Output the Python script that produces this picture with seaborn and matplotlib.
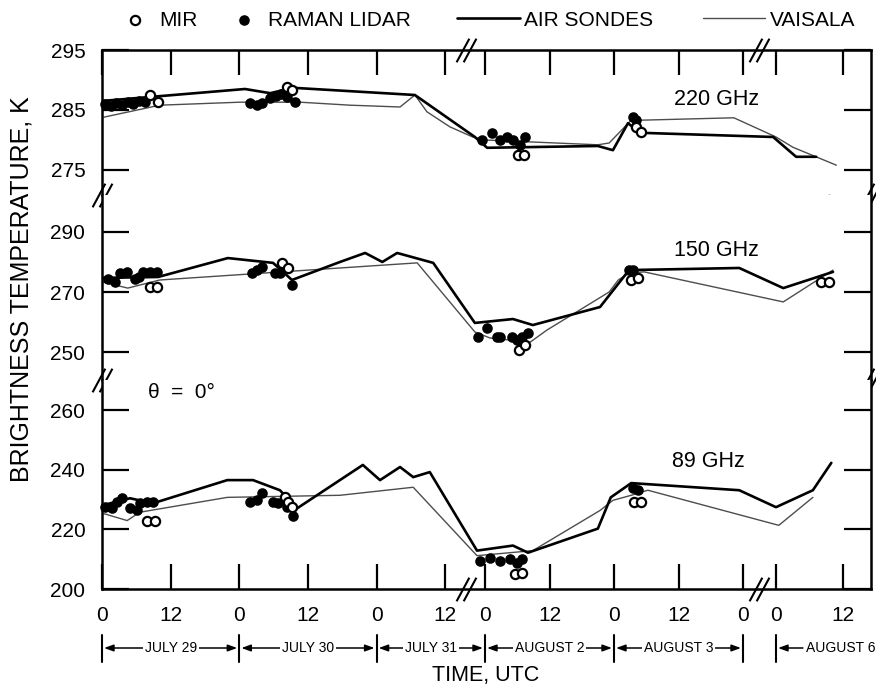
import numpy as np
import matplotlib
matplotlib.use("Agg")
import matplotlib.pyplot as plt
from matplotlib.path import Path
from matplotlib.transforms import blended_transform_factory
import seaborn as sns

# time = hours after 29 July 00 UTC (1 Aug and 4-5 Aug fall inside the axis breaks)

# ---- 220 GHz ----
sonde_220_h = [0, 25, 29.4, 33.4, 54.7, 94.1, 96.4, 117, 119.8, 122.6, 124.9, 191.5, 195.6, 199.2]
sonde_220_tb = [286.5, 288.5, 287.8, 288.7, 287.5, 280.5, 278.7, 279.0, 278.3, 282.8, 281.2, 280.5, 277.2, 277.2]
vaisala_220_h = [0.3, 10.1, 24.1, 34.6, 43.4, 52.1, 54.7, 56.8, 60.8, 93.7, 96, 117, 119.1, 123.2, 125,
                 142.3, 192, 195, 202.8]
vaisala_220_tb = [283.8, 285.8, 286.3, 286.3, 285.8, 285.5, 287.5, 284.7, 282.2, 280.5, 280, 279.2, 279.5,
                  283.3, 283.3, 283.7, 280.5, 278.8, 275.8]
raman_220_h = [0.5, 1.5, 2.5, 3.5, 4.5, 5.5, 6.5, 7.5, 25.9, 27.1, 28, 29.4, 30.4, 31.3, 32.3, 33.7,
               95.4, 97.3, 98.8, 100.1, 101.2, 102.5, 103.4, 123.5, 124]
raman_220_tb = [286, 285.6, 286.2, 285.8, 286.3, 286, 286.5, 286.4, 286.2, 285.8, 286.2, 287, 287.3, 287.6,
                287.2, 286.3, 280, 281.2, 280, 280.5, 280, 279.2, 280.5, 283.8, 283.3]
mir_220_h = [8.4, 9.8, 32.3, 33.2, 102.1, 103.3, 124.1, 125, 200, 201.5]
mir_220_tb = [287.5, 286.3, 288.8, 288.3, 277.5, 277.5, 282.2, 281.3, 268, 270]

# ---- 150 GHz ----
sonde_150_h = [0, 9.8, 22, 29.9, 33.2, 41.6, 46, 49, 51.6, 57.9, 94.1, 101.2, 104.9, 117.4, 122.8,
               143.3, 193.3, 202.2]
sonde_150_tb = [274.7, 275, 281.3, 279.7, 274, 280, 283, 280, 283, 279.7, 259.7, 261, 259, 265, 277.3,
                278, 271.3, 276.7]
vaisala_150_h = [0.2, 4.5, 10.1, 41.6, 55.1, 94.1, 96.9, 104.4, 107.5, 119.1, 120.8, 122.8, 125.6, 193.3, 202.2]
vaisala_150_tb = [273.3, 271.3, 274, 278, 279.7, 256.7, 254.7, 253.3, 257.3, 270, 274, 276.3, 276.7, 266.7, 277.3]
raman_150_h = [1.0, 2.3, 3.1, 4.4, 5.8, 6.5, 7.2, 8.4, 9.6, 26.2, 27.1, 28, 30.2, 31.1, 33.2,
               94.7, 96.4, 98.2, 98.8, 101, 102, 102.9, 104, 122.8, 123.6]
raman_150_tb = [274.3, 273.3, 276.3, 276.7, 274.3, 275, 276.7, 276.7, 276.7, 276.3, 277.3, 278.3, 276.3,
                276.3, 272.3, 255, 258, 255, 255, 255, 254, 255, 256.3, 277.3, 277.3]
mir_150_h = [8.4, 9.6, 31.5, 32.5, 102.3, 103.4, 123.2, 124.4, 200, 201.5]
mir_150_tb = [271.7, 271.7, 279.7, 278, 250.7, 252.3, 274, 274.7, 273.3, 273.3]

# ---- 89 GHz ----
sonde_89_h = [0, 4.9, 8.9, 21.9, 26.4, 31.1, 34.1, 45.6, 48.6, 52.1, 54.4, 57.3, 94.5, 101.2, 104,
              117, 119.4, 123.2, 143.3, 192, 198.6, 201.9]
sonde_89_tb = [228.1, 230.5, 228.8, 236.6, 236.6, 233.2, 227.1, 241.7, 236.6, 241, 237.6, 239.3, 212.9,
               214.6, 212.2, 220.3, 230.8, 235.6, 233.2, 227.5, 233.2, 242.4]
vaisala_89_h = [0.2, 4.4, 6.6, 21.9, 41.6, 54.4, 94.5, 104.9, 117.4, 119.8, 123.2, 126.3, 192.5, 198.6]
vaisala_89_tb = [225.4, 223, 225.8, 230.8, 231.5, 234.2, 211.2, 212.9, 226.4, 229.8, 231.5, 233.2, 221.4, 230.8]
raman_89_h = [0.5, 1.7, 2.6, 3.5, 4.9, 6.1, 6.6, 7.9, 8.9, 25.9, 27.1, 28, 29.9, 30.8, 32.3, 33.4,
              95.1, 96.9, 98.8, 100.7, 102, 102.9, 123.5, 124.4]
raman_89_tb = [227.5, 227.1, 229.2, 230.5, 227.1, 226.4, 228.8, 229.2, 229.2, 229.2, 229.8, 232.2, 229.2,
               228.8, 227.5, 224.7, 209.5, 210.5, 209.5, 210.2, 208.8, 210.2, 233.9, 233.2]
mir_89_h = [7.9, 9.3, 32, 32.5, 33.2, 101.6, 102.9, 123.7, 125]
mir_89_tb = [223, 223, 230.8, 229.2, 227.5, 205.1, 205.4, 229.2, 229.2]

# axis layout
xtick_hours = [0, 12, 24, 36, 48, 60, 96, 108, 120, 132, 144, 192, 204]
xtick_labels = ["0", "12", "0", "12", "0", "12", "0", "12", "0", "12", "0", "0", "12"]
day_labels = ["JULY 29", "JULY 30", "JULY 31", "AUGUST 2", "AUGUST 3"]
day_start = [0, 24, 48, 96, 120]
day_end = [24, 48, 96, 120, 144]
last_day_label = "AUGUST 6"
last_day_start = 192
break_hours = [78, 168]
band_ylims = [(270.83, 295), (240.7, 302.3), (200, 270.25)]
band_yticks = [[275, 285, 295], [250, 270, 290], [200, 220, 240, 260]]
band_names = ["220 GHz", "150 GHz", "89 GHz"]
band_name_pos = [(139, 286.7), (139, 283.7), (137.5, 242.7)]

# piecewise time scale that squeezes the two gaps
scale_hours = [-100, 0, 63, 93, 96, 144, 146.7, 189.2, 192, 209, 400]
scale_pos = [-470, 102, 462.4, 469, 485, 743, 757.5, 760, 776, 871, 1938.7]


def fwd(h):
    return np.interp(h, scale_hours, scale_pos)


def inv(p):
    return np.interp(p, scale_pos, scale_hours)


sns.set_style("ticks")
plt.rcParams["font.family"] = ["Liberation Sans", "DejaVu Sans"]
plt.rcParams["text.color"] = "black"
plt.rcParams["axes.labelcolor"] = "black"
plt.rcParams["xtick.color"] = "black"
plt.rcParams["ytick.color"] = "black"

fig, axes = plt.subplots(3, 1, sharex=True, figsize=(8.76, 6.89), dpi=100,
                         gridspec_kw={"height_ratios": [145, 185, 209], "hspace": 0})
fig.subplots_adjust(left=102 / 876, right=871 / 876, top=1 - 50 / 689, bottom=1 - 589 / 689)
axes[0].set_xscale("function", functions=(fwd, inv))

bands = [
    (sonde_220_h, sonde_220_tb, vaisala_220_h, vaisala_220_tb, raman_220_h, raman_220_tb, mir_220_h, mir_220_tb),
    (sonde_150_h, sonde_150_tb, vaisala_150_h, vaisala_150_tb, raman_150_h, raman_150_tb, mir_150_h, mir_150_tb),
    (sonde_89_h, sonde_89_tb, vaisala_89_h, vaisala_89_tb, raman_89_h, raman_89_tb, mir_89_h, mir_89_tb),
]

for i, (ax, b) in enumerate(zip(axes, bands)):
    lab = (lambda s: {"label": s}) if i == 0 else (lambda s: {})
    sns.lineplot(x=b[2], y=b[3], ax=ax, color="0.3", lw=1.0, sort=False, estimator=None,
                 legend=False, zorder=2, **lab("VAISALA"))
    sns.lineplot(x=b[0], y=b[1], ax=ax, color="black", lw=1.9, sort=False, estimator=None,
                 legend=False, zorder=3, **lab("AIR SONDES"))
    sns.scatterplot(x=b[4], y=b[5], ax=ax, color="black", s=58, linewidth=0, legend=False,
                    zorder=4, clip_on=False, **lab("RAMAN LIDAR"))
    sns.scatterplot(x=b[6], y=b[7], ax=ax, fc="white", ec="black", s=44, linewidth=1.6, legend=False,
                    zorder=5, clip_on=False, **lab("MIR"))
    ax.set_ylim(*band_ylims[i])
    ax.set_yticks(band_yticks[i])
    ax.tick_params(axis="y", direction="in", length=19.5, width=1.6, left=True, right=True,
                   labelsize=15, pad=12, colors="black")
    for sp in ax.spines.values():
        sp.set_linewidth(1.8)
        sp.set_color("black")
    ax.text(*band_name_pos[i], band_names[i], fontsize=15.5, ha="center", va="center")
    ax.set(xlabel="", ylabel="")

axes[0].set_xlim(0, 209)
axes[0].set_xticks(xtick_hours)
axes[2].set_xticklabels(xtick_labels)

axes[0].spines["bottom"].set_visible(False)
axes[1].spines["top"].set_visible(False)
axes[1].spines["bottom"].set_visible(False)
axes[2].spines["top"].set_visible(False)
axes[0].tick_params(axis="x", direction="in", top=True, bottom=False, length=18, width=1.6,
                    labelbottom=False, labeltop=False)
axes[1].tick_params(axis="x", top=False, bottom=False, labelbottom=False)
axes[2].tick_params(axis="x", direction="in", bottom=True, top=False, length=18, width=1.6,
                    labelsize=15, pad=12, colors="black")

axes[2].text(13.8, 266.2, "θ  =  0°", fontsize=15, ha="center", va="center")

# "//" break marks on the frame
brk = Path([(-0.42, -0.5), (0.12, 0.5), (-0.12, -0.5), (0.42, 0.5)],
           [Path.MOVETO, Path.LINETO, Path.MOVETO, Path.LINETO])
brk_kw = dict(marker=brk, markersize=17, mec="black", mew=1.5, mfc="none", ls="none",
              clip_on=False, zorder=6)
for h in break_hours:
    axes[0].plot([h], [1], transform=axes[0].get_xaxis_transform(), **brk_kw)
    axes[2].plot([h], [0], transform=axes[2].get_xaxis_transform(), **brk_kw)
for ax in axes[:2]:
    ax.plot([0, 1], [0, 0], transform=ax.transAxes, **brk_kw)

# day row under the time axis
ax = axes[2]
trans = blended_transform_factory(ax.transData, fig.transFigure)
y_row = 1 - 648 / 689
bar_lo, bar_hi = 1 - 662 / 689, 1 - 635 / 689
for x in sorted(set(day_start + day_end + [last_day_start])):
    ax.plot([x, x], [bar_lo, bar_hi], transform=trans, color="black", lw=1.5, clip_on=False)
arrow_style = "<|-|>,head_length=0.55,head_width=0.2"
for lbl, a, b in zip(day_labels, day_start, day_end):
    ax.annotate("", xy=(a, y_row), xytext=(b, y_row), xycoords=trans, textcoords=trans,
                arrowprops=dict(arrowstyle=arrow_style, color="black", lw=1.1, shrinkA=1.5, shrinkB=1.5),
                annotation_clip=False)
    mid = inv((fwd(a) + fwd(b)) / 2)
    ax.text(mid, y_row, lbl, transform=trans, ha="center", va="center", fontsize=10, zorder=5,
            bbox=dict(boxstyle="square,pad=0.15", fc="white", ec="none"))
ax.annotate(last_day_label, xy=(last_day_start, y_row), xytext=(197.4, y_row), xycoords=trans,
            textcoords=trans, ha="left", va="center", fontsize=10,
            arrowprops=dict(arrowstyle="-|>,head_length=0.55,head_width=0.2", color="black", lw=1.1,
                            shrinkA=0, shrinkB=1.5),
            annotation_clip=False)

fig.text(22 / 876, 1 - 289 / 689, "BRIGHTNESS TEMPERATURE, K", rotation=90, ha="center", va="center",
         fontsize=18)
fig.text(486 / 876, 1 - 676 / 689, "TIME, UTC", ha="center", va="center", fontsize=15.5)

# legend split in two so marker and line handles get their own widths
handles, labels = axes[0].get_legend_handles_labels()
hmap = dict(zip(labels, handles))
fig.legend([hmap["MIR"], hmap["RAMAN LIDAR"]], ["MIR", "RAMAN LIDAR"], loc="center left",
           bbox_to_anchor=(125 / 876, 1 - 20 / 689), ncol=2, frameon=False, fontsize=15,
           handlelength=1.0, handletextpad=0.65, columnspacing=1.7, borderpad=0, borderaxespad=0)
fig.legend([hmap["AIR SONDES"], hmap["VAISALA"]], ["AIR SONDES", "VAISALA"], loc="center left",
           bbox_to_anchor=(457 / 876, 1 - 20 / 689), ncol=2, frameon=False, fontsize=15,
           handlelength=3.0, handletextpad=0.2, columnspacing=2.4, borderpad=0, borderaxespad=0)

fig.savefig("out.png", dpi=100)
